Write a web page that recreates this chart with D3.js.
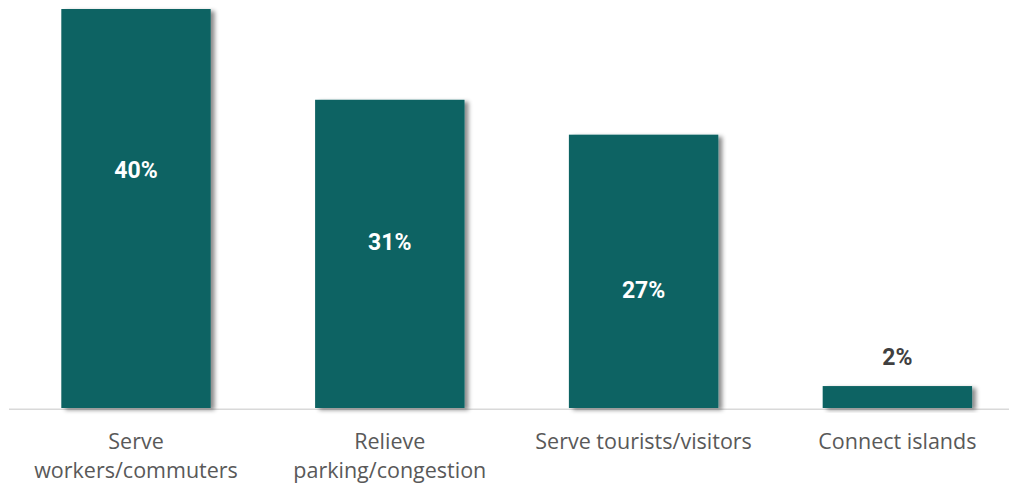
<!DOCTYPE html>
<html>
<head>
<meta charset="utf-8">
<script src="https://cdn.jsdelivr.net/npm/d3@7"></script>
<style>
  html, body { margin: 0; padding: 0; background: #ffffff; }
  svg { display: block; }
</style>
</head>
<body>
<svg id="chart" width="1010" height="484"></svg>
<script>
// ---- data ----
const categories = [
  ["Serve", "workers/commuters"],
  ["Relieve", "parking/congestion"],
  ["Serve tourists/visitors"],
  ["Connect islands"]
];
const values = [40.0, 30.9, 27.4, 2.2];
const valueLabels = ["40%", "31%", "27%", "2%"];

// ---- drawing ----
const W = 1010, H = 484;
const svg = d3.select("#chart");

const x = d3.scaleBand()
  .domain(d3.range(categories.length))
  .range([9.1, 1024.3])
  .paddingInner(0.4113)
  .paddingOuter(0.2057);

const y = d3.scaleLinear().domain([0, 40]).range([408, 9]);

const defs = svg.append("defs");
const f = defs.append("filter").attr("id", "shadow")
  .attr("x", "-10%").attr("y", "-10%").attr("width", "130%").attr("height", "130%");
f.append("feDropShadow")
  .attr("dx", 4).attr("dy", 2).attr("stdDeviation", 2.2)
  .attr("flood-color", "#000").attr("flood-opacity", 0.45);

// baseline axis
const axis = svg.append("g").attr("transform", `translate(0,${y(0) + 1.3})`)
  .call(d3.axisBottom(x).tickSize(0).tickFormat(""));
axis.select(".domain").attr("stroke", "#d9d9d9").attr("stroke-width", 1.6)
  .attr("d", "M9,0H1009");

// bars
svg.append("g").selectAll("rect")
  .data(values)
  .join("rect")
  .attr("x", (d, i) => x(i))
  .attr("width", x.bandwidth())
  .attr("y", d => y(d))
  .attr("height", d => y(0) - y(d))
  .attr("fill", "#0b6363")
  .attr("filter", "url(#shadow)");

// value labels (drop from bar top, in px)
const labelDrop = [161, 142.5, 155.5, -29];
svg.append("g").selectAll("text")
  .data(values)
  .join("text")
  .attr("x", (d, i) => x(i) + x.bandwidth() / 2)
  .attr("y", (d, i) => y(d) + labelDrop[i])
  .attr("dy", "0.35em")
  .attr("text-anchor", "middle")
  .attr("font-family", "Roboto, 'Noto Sans', sans-serif")
  .attr("font-weight", 700)
  .attr("font-size", 23)
  .attr("fill", (d, i) => i === 3 ? "#404040" : "#ffffff")
  .text((d, i) => valueLabels[i]);

// category labels
const cat = svg.append("g").selectAll("text")
  .data(categories)
  .join("text")
  .attr("x", (d, i) => x(i) + x.bandwidth() / 2)
  .attr("y", 449)
  .attr("text-anchor", "middle")
  .attr("font-family", "'Open Sans', 'Noto Sans', sans-serif")
  .attr("font-size", 21.5)
  .attr("fill", "#595959");
cat.selectAll("tspan")
  .data(d => d)
  .join("tspan")
  .attr("x", function() { return d3.select(this.parentNode).attr("x"); })
  .attr("dy", (d, j) => j === 0 ? 0 : 29)
  .text(d => d);
</script>
</body>
</html>
